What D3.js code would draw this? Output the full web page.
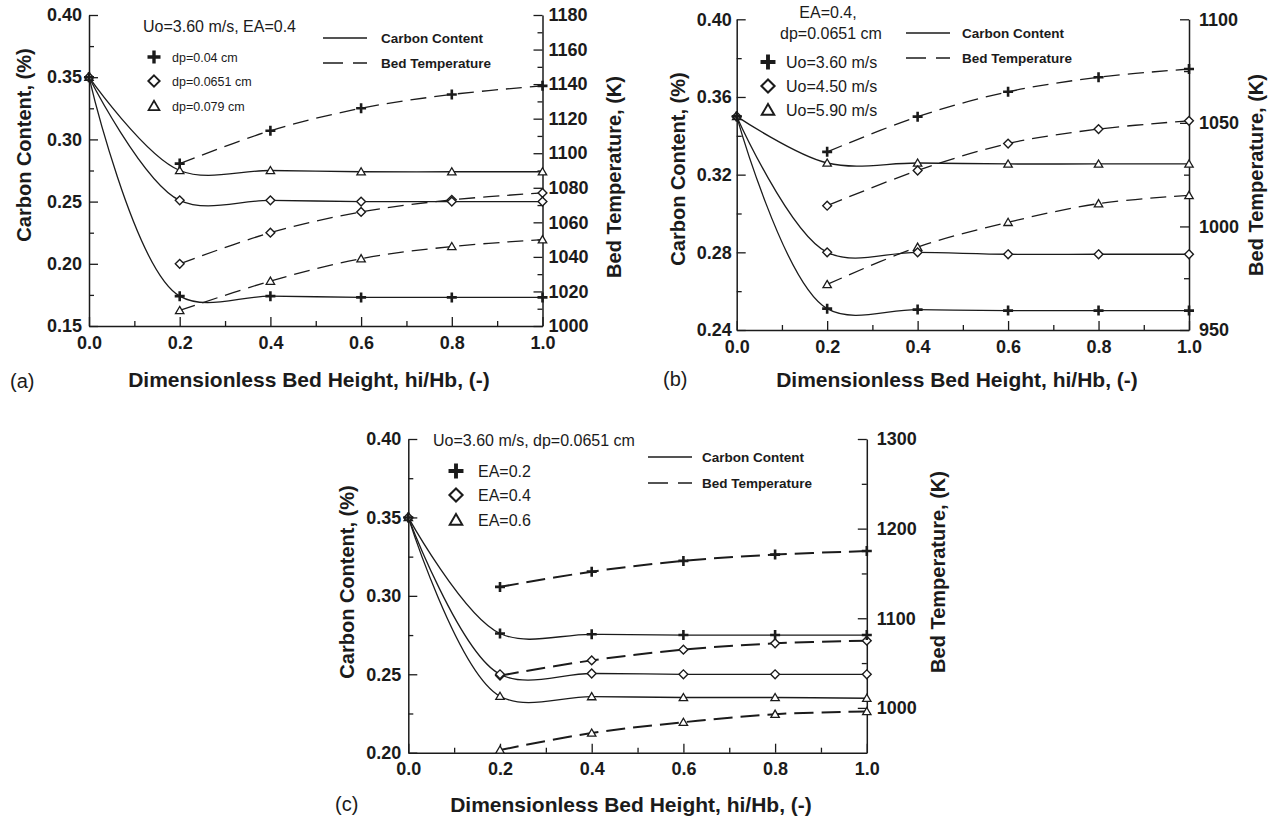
<!DOCTYPE html>
<html>
<head>
<meta charset="utf-8">
<script src="https://cdn.jsdelivr.net/npm/d3@7"></script>
<style>
html,body{margin:0;padding:0;background:#fff;}
svg{display:block;font-family:"Liberation Sans",Arial,sans-serif;}
</style>
</head>
<body>
<svg id="chart" width="1278" height="821"></svg>
<script>
// ---------------- data ----------------
const xCarbon = [0, 0.2, 0.4, 0.6, 0.8, 1.0];
const xTemp = [0.2, 0.4, 0.6, 0.8, 1.0];
const xTicks = [0.0, 0.2, 0.4, 0.6, 0.8, 1.0];

// panel (a): Uo=3.60 m/s, EA=0.4
const aSeriesLabels = ["dp=0.04 cm", "dp=0.0651 cm", "dp=0.079 cm"];
const aCarbonPlus = [0.35, 0.174, 0.174, 0.173, 0.173, 0.173];
const aCarbonDiamond = [0.35, 0.251, 0.251, 0.250, 0.250, 0.250];
const aCarbonTriangle = [0.35, 0.275, 0.275, 0.274, 0.274, 0.274];
const aTempPlus = [1094, 1113, 1126, 1134, 1139];
const aTempDiamond = [1036, 1054, 1066, 1073, 1077];
const aTempTriangle = [1009, 1026, 1039, 1046, 1050];
const aLeftTicks = [0.15, 0.20, 0.25, 0.30, 0.35, 0.40];
const aRightTicks = [1000, 1020, 1040, 1060, 1080, 1100, 1120, 1140, 1160, 1180];

// panel (b): EA=0.4, dp=0.0651 cm
const bSeriesLabels = ["Uo=3.60 m/s", "Uo=4.50 m/s", "Uo=5.90 m/s"];
const bCarbonPlus = [0.35, 0.251, 0.2505, 0.250, 0.250, 0.250];
const bCarbonDiamond = [0.35, 0.280, 0.280, 0.279, 0.279, 0.279];
const bCarbonTriangle = [0.35, 0.326, 0.326, 0.3255, 0.3255, 0.3255];
const bTempPlus = [1036, 1053, 1065, 1072, 1076];
const bTempDiamond = [1010, 1027, 1040, 1047, 1051];
const bTempTriangle = [972, 990, 1002, 1011, 1015];
const bLeftTicks = [0.24, 0.28, 0.32, 0.36, 0.40];
const bRightTicks = [950, 1000, 1050, 1100];

// panel (c): Uo=3.60 m/s, dp=0.0651 cm
const cSeriesLabels = ["EA=0.2", "EA=0.4", "EA=0.6"];
const cCarbonPlus = [0.35, 0.276, 0.2755, 0.275, 0.275, 0.275];
const cCarbonDiamond = [0.35, 0.250, 0.2505, 0.250, 0.250, 0.250];
const cCarbonTriangle = [0.35, 0.236, 0.2358, 0.2352, 0.2352, 0.2347];
const cTempPlus = [1135, 1152, 1164, 1171, 1175];
const cTempDiamond = [1036, 1053, 1065, 1072, 1075];
const cTempTriangle = [953, 972, 984, 993, 996];
const cLeftTicks = [0.20, 0.25, 0.30, 0.35, 0.40];
const cRightTicks = [1000, 1100, 1200, 1300];

const lineLegendLabels = ["Carbon Content", "Bed Temperature"];
const xTitle = "Dimensionless Bed Height, hi/Hb, (-)";
const yLeftTitle = "Carbon Content, (%)";
const yRightTitle = "Bed Temperature, (K)";

// ---------------- layout ----------------
const INK = "#1b1b1b";
const panels = [
  {
    tag: "(a)", header: ["Uo=3.60 m/s, EA=0.4"], headerPos: [[143, 32]], headerAnchor: "start", headerSize: 16,
    labels: aSeriesLabels,
    carbon: [aCarbonPlus, aCarbonDiamond, aCarbonTriangle],
    temp: [aTempPlus, aTempDiamond, aTempTriangle],
    leftDomain: [0.15, 0.40], leftTicks: aLeftTicks, rightDomain: [1000, 1180], rightTicks: aRightTicks,
    frame: {l: 89, r: 542.5, t: 15, b: 326},
    rightPad: 6, leftPad: 7,
    legendX: 154, legendY: [57, 81, 106], legendTextX: 172, legendSize: 12.5, legendDy: 4.5, legendScale: 1,
    lineLegX: [323, 367], lineLegY: [38, 63], lineLegTextX: 381,
    tagPos: [10, 388], xTitlePos: [309, 387],
    lTitle: [24, 145], rTitle: [614, 177],
    dash: "16,8", dashW: 1.3
  },
  {
    tag: "(b)", header: ["EA=0.4,", "dp=0.0651 cm"], headerPos: [[828, 18], [831, 39]], headerAnchor: "middle", headerSize: 16,
    labels: bSeriesLabels,
    carbon: [bCarbonPlus, bCarbonDiamond, bCarbonTriangle],
    temp: [bTempPlus, bTempDiamond, bTempTriangle],
    leftDomain: [0.24, 0.40], leftTicks: bLeftTicks, rightDomain: [950, 1100], rightTicks: bRightTicks,
    frame: {l: 736.7, r: 1189, t: 19.3, b: 330},
    rightPad: 10, leftPad: 5,
    legendX: 768, legendY: [62, 86, 110], legendTextX: 786, legendSize: 16, legendDy: 5.5, legendScale: 1.15,
    lineLegX: [906, 950], lineLegY: [33, 58], lineLegTextX: 962,
    tagPos: [663, 386], xTitlePos: [957, 387],
    lTitle: [678, 169], rTitle: [1256, 175],
    dash: "16,8", dashW: 1.3
  },
  {
    tag: "(c)", header: ["Uo=3.60 m/s, dp=0.0651 cm"], headerPos: [[433, 446]], headerAnchor: "start", headerSize: 16,
    labels: cSeriesLabels,
    carbon: [cCarbonPlus, cCarbonDiamond, cCarbonTriangle],
    temp: [cTempPlus, cTempDiamond, cTempTriangle],
    leftDomain: [0.20, 0.40], leftTicks: cLeftTicks, rightDomain: [950, 1300], rightTicks: cRightTicks,
    frame: {l: 408.3, r: 866.8, t: 439, b: 752.7},
    rightPad: 10, leftPad: 7,
    legendX: 456, legendY: [471, 495, 520], legendTextX: 478, legendSize: 16, legendDy: 5.5, legendScale: 1.15,
    lineLegX: [648, 692], lineLegY: [457, 483], lineLegTextX: 702,
    tagPos: [335, 811], xTitlePos: [631, 812],
    lTitle: [347, 582], rTitle: [938, 572],
    dash: "19,8", dashW: 2
  }
];

const svg = d3.select("#chart");

function minorsOf(ticks) {
  const out = [];
  for (let i = 0; i < ticks.length - 1; i++) out.push((ticks[i] + ticks[i + 1]) / 2);
  return out;
}

function drawMarker(g, kind, x, y, s) {
  s = s || 1;
  if (kind === 0) {
    const a = 5 * s;
    g.append("path").attr("d", `M${x - a},${y}H${x + a}M${x},${y - a}V${y + a}`)
      .attr("stroke", INK).attr("stroke-width", 2.6 * s).attr("fill", "none");
  } else if (kind === 1) {
    const a = 4.4 * s;
    g.append("path").attr("d", `M${x},${y - a}L${x + a},${y}L${x},${y + a}L${x - a},${y}Z`)
      .attr("stroke", INK).attr("stroke-width", 1.4 * s).attr("fill", "#fff");
  } else {
    const a = 4 * s;
    g.append("path").attr("d", `M${x},${y - a}L${x + a * 1.05},${y + a * 0.8}L${x - a * 1.05},${y + a * 0.8}Z`)
      .attr("stroke", INK).attr("stroke-width", 1.3 * s).attr("fill", "#fff");
  }
}

panels.forEach(p => {
  const f = p.frame;
  const g = svg.append("g");
  const x = d3.scaleLinear().domain([0, 1]).range([f.l, f.r]);
  const yL = d3.scaleLinear().domain(p.leftDomain).range([f.b, f.t]);
  const yR = d3.scaleLinear().domain(p.rightDomain).range([f.b, f.t]);

  const styleAxis = sel => {
    sel.selectAll("path.domain").attr("stroke", INK).attr("stroke-width", 1.5);
    sel.selectAll(".tick line").attr("stroke", INK).attr("stroke-width", 1.3);
    sel.selectAll("text").attr("fill", INK).attr("font-size", 18).attr("font-weight", "bold")
      .attr("font-family", '"Liberation Sans", Arial, sans-serif');
  };

  // bottom axis
  g.append("g").attr("transform", `translate(0,${f.b})`)
    .call(d3.axisBottom(x).tickValues(minorsOf(xTicks)).tickSize(-5).tickSizeOuter(0).tickFormat(""))
    .call(s => s.select(".domain").remove()).call(styleAxis);
  g.append("g").attr("transform", `translate(0,${f.b})`)
    .call(d3.axisBottom(x).tickValues(xTicks).tickSize(-9).tickSizeOuter(0).tickPadding(10).tickFormat(d3.format(".1f")))
    .call(styleAxis);
  // left axis
  g.append("g").attr("transform", `translate(${f.l},0)`)
    .call(d3.axisLeft(yL).tickValues(minorsOf(p.leftTicks)).tickSize(-5).tickSizeOuter(0).tickFormat(""))
    .call(s => s.select(".domain").remove()).call(styleAxis);
  g.append("g").attr("transform", `translate(${f.l},0)`)
    .call(d3.axisLeft(yL).tickValues(p.leftTicks).tickSize(-9).tickSizeOuter(0).tickPadding(p.leftPad).tickFormat(d3.format(".2f")))
    .call(styleAxis);
  // right axis
  g.append("g").attr("transform", `translate(${f.r},0)`)
    .call(d3.axisRight(yR).tickValues(minorsOf(p.rightTicks)).tickSize(-5).tickSizeOuter(0).tickFormat(""))
    .call(s => s.select(".domain").remove()).call(styleAxis);
  g.append("g").attr("transform", `translate(${f.r},0)`)
    .call(d3.axisRight(yR).tickValues(p.rightTicks).tickSize(-9).tickSizeOuter(0).tickPadding(p.rightPad).tickFormat(d3.format("d")))
    .call(styleAxis);

  // titles
  g.append("text").attr("x", p.xTitlePos[0]).attr("y", p.xTitlePos[1]).attr("text-anchor", "middle")
    .attr("font-size", 21).attr("font-weight", "bold").attr("fill", INK).text(xTitle);
  g.append("text").attr("transform", `translate(${p.lTitle[0]},${p.lTitle[1]}) rotate(-90)`)
    .attr("text-anchor", "middle").attr("dominant-baseline", "central")
    .attr("font-size", 20).attr("font-weight", "bold").attr("fill", INK).text(yLeftTitle);
  g.append("text").attr("transform", `translate(${p.rTitle[0]},${p.rTitle[1]}) rotate(-90)`)
    .attr("text-anchor", "middle").attr("dominant-baseline", "central")
    .attr("font-size", 20).attr("font-weight", "bold").attr("fill", INK).text(yRightTitle);
  g.append("text").attr("x", p.tagPos[0]).attr("y", p.tagPos[1]).attr("font-size", 20)
    .attr("fill", INK).text(p.tag);

  // curves
  const carbonLine = d3.line().x((d, i) => x(xCarbon[i])).y(d => yL(d)).curve(d3.curveCatmullRom.alpha(0.6));
  const tempLine = d3.line().x((d, i) => x(xTemp[i])).y(d => yR(d)).curve(d3.curveCatmullRom.alpha(0.5));
  p.temp.forEach(s => {
    g.append("path").attr("d", tempLine(s)).attr("fill", "none").attr("stroke", INK)
      .attr("stroke-width", p.dashW).attr("stroke-dasharray", p.dash);
  });
  p.carbon.forEach(s => {
    g.append("path").attr("d", carbonLine(s)).attr("fill", "none").attr("stroke", INK).attr("stroke-width", 1.3);
  });
  // markers (triangles first, plus on top)
  [2, 1, 0].forEach(k => {
    p.temp[k].forEach((v, i) => drawMarker(g, k, x(xTemp[i]), yR(v), 1));
    p.carbon[k].forEach((v, i) => drawMarker(g, k, x(xCarbon[i]), yL(v), 1));
  });

  // header text
  p.header.forEach((t, i) => {
    g.append("text").attr("x", p.headerPos[i][0]).attr("y", p.headerPos[i][1])
      .attr("text-anchor", p.headerAnchor).attr("font-size", p.headerSize).attr("fill", INK).text(t);
  });
  // marker legend
  p.labels.forEach((t, k) => {
    drawMarker(g, k, p.legendX, p.legendY[k], 1.3 * p.legendScale);
    g.append("text").attr("x", p.legendTextX).attr("y", p.legendY[k] + p.legendDy)
      .attr("font-size", p.legendSize).attr("fill", INK).text(t);
  });
  // line legend
  lineLegendLabels.forEach((t, k) => {
    g.append("line").attr("x1", p.lineLegX[0]).attr("x2", p.lineLegX[1])
      .attr("y1", p.lineLegY[k]).attr("y2", p.lineLegY[k])
      .attr("stroke", INK).attr("stroke-width", 1.3)
      .attr("stroke-dasharray", k === 1 ? "20,10" : null);
    g.append("text").attr("x", p.lineLegTextX).attr("y", p.lineLegY[k] + 4.5)
      .attr("font-size", 13.5).attr("font-weight", "bold").attr("fill", INK).text(t);
  });
});
</script>
</body>
</html>
